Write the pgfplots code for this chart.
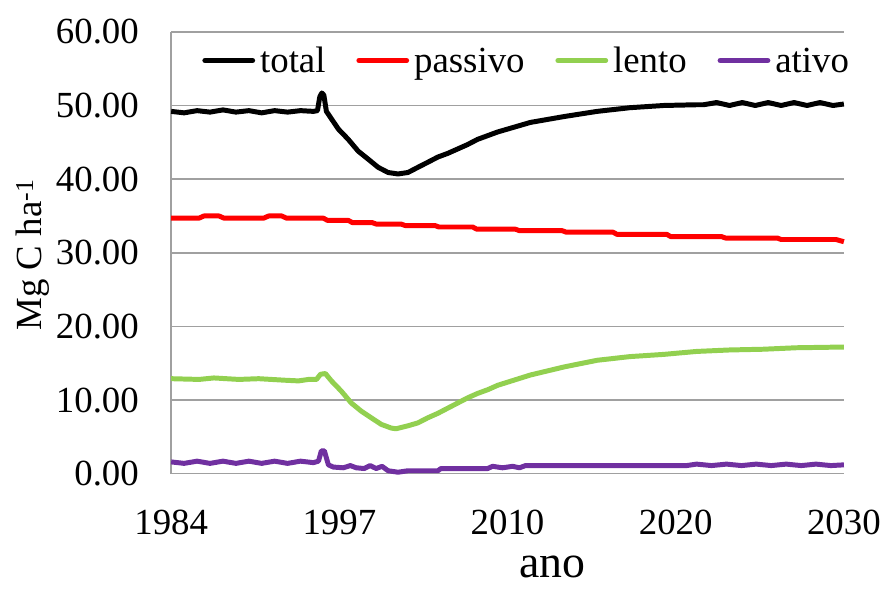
\documentclass[border=0pt]{standalone}
\usepackage{pgfplots}
\pgfplotsset{compat=1.18}
\usepackage{fontspec}
\setmainfont{Liberation Serif}
\definecolor{cgreen}{HTML}{92D050}
\definecolor{cpurple}{HTML}{7030A0}
\definecolor{cred}{HTML}{FF0000}
\definecolor{cgrid}{HTML}{A0A0A0}
\begin{document}
\begin{tikzpicture}[font=\fontsize{37bp}{44bp}\selectfont]
\begin{axis}[
  at={(0,0)}, anchor=south west,
  scale only axis, width=676bp, height=444bp,
  xmin=0, xmax=4, ymin=0, ymax=60,
  xtick={0,1,2,3,4}, xticklabels={1984,1997,2010,2020,2030},
  ytick={0,10,20,30,40,50,60},
  yticklabels={0.00,10.00,20.00,30.00,40.00,50.00,60.00},
  major tick length=0pt,
  axis x line*=bottom, axis y line*=left,
  axis line style={cgrid, line width=1.5bp, -},
  ymajorgrids, grid style={cgrid, line width=1.5bp},
  yticklabel style={anchor=east, xshift=-29bp},
  xticklabel style={anchor=north, yshift=-33bp},
  xlabel={ano},
  every axis x label/.style={at={(axis description cs:0.567,0)}, anchor=base, yshift=-104bp, font=\fontsize{46bp}{52bp}\selectfont},
  ylabel={Mg C ha\textsuperscript{-1}},
  every axis y label/.style={at={(axis description cs:-0.192,0.495)}, rotate=90, anchor=base},
  clip=false,
  legend columns=4,
  legend style={at={(axis description cs:0.527,0.935)}, anchor=center, draw=none, fill=none,
    inner sep=0pt, nodes={inner sep=0pt},
    /tikz/every odd column/.append style={column sep=5bp},
    /tikz/every even column/.append style={column sep=31bp}},
  legend image code/.code={\draw[#1, line cap=round] (0bp,0bp) -- (48bp,0bp);},
]
\addplot[black, line width=5bp, line join=round] coordinates {
(0,49.2) (0.077,49.0) (0.154,49.3) (0.231,49.1) (0.308,49.4) (0.385,49.1) (0.462,49.3) (0.538,49.0) (0.615,49.3) (0.692,49.1) (0.769,49.3) (0.846,49.2)
(0.870,49.3) (0.884,51.2) (0.896,51.7) (0.908,51.4) (0.923,49.2) (0.935,48.8) (0.994,46.8) (1.053,45.4) (1.112,43.8) (1.172,42.7) (1.231,41.6) (1.290,40.9) (1.349,40.7) (1.408,40.9) (1.467,41.6) (1.527,42.3) (1.586,43.0) (1.645,43.5) (1.704,44.1) (1.763,44.7) (1.822,45.4) (1.941,46.4) (2.136,47.7) (2.337,48.5) (2.533,49.2) (2.728,49.7) (2.929,50.0) (3.124,50.1)
(3.166,50.1) (3.243,50.4) (3.320,50.0) (3.396,50.4) (3.473,50.0) (3.550,50.4) (3.627,50.0) (3.704,50.4) (3.781,50.0) (3.858,50.4) (3.935,50.0) (4.0,50.2)
};
\addplot[cred, line width=5bp, line join=round] coordinates {
(0,34.7) (0.166,34.7) (0.195,35.0) (0.284,35.0) (0.314,34.7) (0.550,34.7) (0.580,35.0) (0.657,35.0) (0.686,34.7) (0.905,34.7) (0.929,34.4) (1.053,34.4) (1.077,34.1) (1.195,34.1) (1.219,33.9) (1.367,33.9) (1.391,33.7) (1.568,33.7) (1.592,33.5) (1.793,33.5) (1.817,33.2) (2.047,33.2) (2.071,33.0) (2.325,33.0) (2.349,32.8) (2.627,32.8) (2.651,32.5) (2.947,32.5) (2.970,32.2) (3.272,32.2) (3.296,32.0) (3.604,32.0) (3.627,31.8) (3.953,31.8) (4.0,31.5)
};
\addplot[cgreen, line width=5bp, line join=round] coordinates {
(0,12.9) (0.166,12.8) (0.254,13.0) (0.402,12.8) (0.521,12.9) (0.669,12.7) (0.757,12.6) (0.817,12.8) (0.864,12.8) (0.888,13.5) (0.917,13.6) (0.953,12.6) (1.012,11.2) (1.071,9.6) (1.130,8.5) (1.189,7.6) (1.249,6.7) (1.308,6.2) (1.337,6.1) (1.408,6.5) (1.467,6.9) (1.527,7.6) (1.586,8.2) (1.645,8.9) (1.704,9.6) (1.763,10.3) (1.822,10.9) (1.882,11.4) (1.941,12.0) (2.136,13.4) (2.337,14.5) (2.533,15.4) (2.728,15.9) (2.929,16.2) (3.124,16.6) (3.320,16.8) (3.521,16.9) (3.716,17.1) (4.0,17.2)
};
\addplot[cpurple, line width=5bp, line join=round] coordinates {
(0,1.6) (0.077,1.4) (0.154,1.7) (0.231,1.4) (0.308,1.7) (0.385,1.4) (0.462,1.7) (0.538,1.4) (0.615,1.7) (0.692,1.4) (0.769,1.7) (0.846,1.5) (0.876,1.7) (0.893,3.1) (0.911,3.1) (0.935,1.2) (0.964,0.9) (1.024,0.8) (1.065,1.1) (1.101,0.8) (1.148,0.7) (1.183,1.1) (1.219,0.7) (1.254,1.0) (1.290,0.4) (1.349,0.2) (1.408,0.4) (1.586,0.4) (1.604,0.7) (1.882,0.7) (1.911,1.0) (1.970,0.8) (2.030,1.0) (2.071,0.8) (2.107,1.1) (3.065,1.1) (3.124,1.3) (3.213,1.1) (3.302,1.3) (3.391,1.1) (3.479,1.3) (3.568,1.1) (3.657,1.3) (3.746,1.1) (3.834,1.3) (3.923,1.1) (4.0,1.2)
};
\legend{total,passivo,lento,ativo}
\end{axis}
\path (-172bp,-116bp) rectangle (712bp,476bp);
\end{tikzpicture}
\end{document}
